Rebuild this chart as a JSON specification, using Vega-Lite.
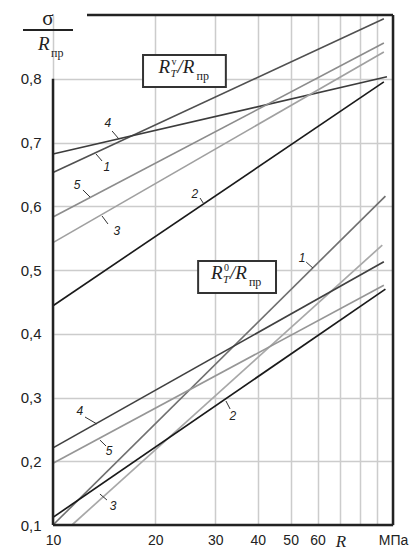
{
  "$schema": "https://vega.github.io/schema/vega-lite/v6.json",
  "width": 340,
  "height": 510,
  "autosize": {"type": "none"},
  "padding": {"left": 53, "top": 15, "right": 26, "bottom": 26},
  "background": "white",
  "config": {"view": {"stroke": null}, "font": "Liberation Sans"},
  "resolve": {"axis": {"x": "independent", "y": "independent"}},
  "datasets": {
    "lines": [
      {"series": "U1", "R": 10, "v": 0.653}, {"series": "U1", "R": 94, "v": 0.894},
      {"series": "U4", "R": 10, "v": 0.682}, {"series": "U4", "R": 96, "v": 0.803},
      {"series": "U5", "R": 10, "v": 0.583}, {"series": "U5", "R": 94, "v": 0.856},
      {"series": "U3", "R": 10, "v": 0.543}, {"series": "U3", "R": 94, "v": 0.842},
      {"series": "U2", "R": 10, "v": 0.444}, {"series": "U2", "R": 94, "v": 0.795},
      {"series": "L1", "R": 10, "v": 0.1}, {"series": "L1", "R": 95, "v": 0.616},
      {"series": "L3", "R": 11.37, "v": 0.1}, {"series": "L3", "R": 93, "v": 0.539},
      {"series": "L4", "R": 10, "v": 0.221}, {"series": "L4", "R": 94, "v": 0.513},
      {"series": "L5", "R": 10, "v": 0.197}, {"series": "L5", "R": 94, "v": 0.476},
      {"series": "L2", "R": 10, "v": 0.112}, {"series": "L2", "R": 95, "v": 0.47}
    ],
    "labels": [
      {"label": "4", "tx": 14.51, "ty": 0.7306, "ax": 14.92, "ay": 0.718, "bx": 15.63, "by": 0.7055},
      {"label": "1", "tx": 14.41, "ty": 0.6616, "ax": 13.38, "ay": 0.682, "bx": 13.94, "by": 0.671},
      {"label": "5", "tx": 11.77, "ty": 0.6333, "ax": 12.25, "ay": 0.6255, "bx": 12.85, "by": 0.6145},
      {"label": "3", "tx": 15.42, "ty": 0.5612, "ax": 13.94, "ay": 0.5847, "bx": 14.51, "by": 0.5722},
      {"label": "2", "tx": 26.15, "ty": 0.6192, "ax": 27.07, "ay": 0.6129, "bx": 27.78, "by": 0.6035},
      {"label": "1", "tx": 54.06, "ty": 0.5188, "ax": 55.54, "ay": 0.5125, "bx": 58.13, "by": 0.5031},
      {"label": "2", "tx": 33.83, "ty": 0.271, "ax": 32.26, "ay": 0.2945, "bx": 33.18, "by": 0.282},
      {"label": "4", "tx": 12.0, "ty": 0.2788, "ax": 12.42, "ay": 0.2694, "bx": 13.47, "by": 0.2584},
      {"label": "5", "tx": 14.61, "ty": 0.2161, "ax": 13.74, "ay": 0.2333, "bx": 14.32, "by": 0.2239},
      {"label": "3", "tx": 15.01, "ty": 0.1298, "ax": 13.74, "ay": 0.1486, "bx": 14.41, "by": 0.1392}
    ],
    "boxes": [
      {"sup": "v", "x1": 18.4, "x2": 32.24, "y1": 0.8373, "y2": 0.787, "xc": 24.37, "yc": 0.8122},
      {"sup": "0", "x1": 26.72, "x2": 45.28, "y1": 0.5141, "y2": 0.4639, "xc": 34.75, "yc": 0.489}
    ],
    "one": [{}]
  },
  "layer": [
    {
      "data": {"name": "lines"},
      "mark": {"type": "line", "strokeCap": "butt"},
      "encoding": {
        "x": {
          "field": "R", "type": "quantitative",
          "scale": {"type": "log", "domain": [10, 100], "nice": false},
          "axis": {
            "values": [10, 20, 30, 40, 50, 60, 70, 80, 90, 100],
            "labelExpr": "datum.value == 70 ? 'R' : datum.value == 100 ? 'МПа' : datum.value <= 60 ? format(datum.value, 'd') : ''",
            "labelFont": {"condition": {"test": "datum.value == 70", "value": "Liberation Serif"}, "value": "Liberation Sans"},
            "labelFontStyle": {"condition": {"test": "datum.value == 70", "value": "italic"}, "value": "normal"},
            "labelFontSize": {"condition": {"test": "datum.value == 70", "value": 17}, "value": 14},
            "labelColor": "#222",
            "labelPadding": 8,
            "labelFlush": false,
            "labelOverlap": false,
            "grid": true, "gridColor": "#cccccc", "gridWidth": 1.5,
            "ticks": false, "domain": false, "title": null
          }
        },
        "y": {
          "field": "v", "type": "quantitative",
          "scale": {"domain": [0.1, 0.9], "nice": false, "zero": false},
          "axis": {
            "values": [0.1, 0.2, 0.3, 0.4, 0.5, 0.6, 0.7, 0.8],
            "labelExpr": "replace(format(datum.value, '.1f'), '.', ',')",
            "labelFontSize": 15, "labelColor": "#222", "labelPadding": 12,
            "grid": true, "gridColor": "#cccccc", "gridWidth": 1.5,
            "ticks": false, "domain": false, "title": null
          }
        },
        "color": {
          "field": "series", "type": "nominal", "legend": null,
          "scale": {
            "domain": ["U1", "U4", "U5", "U3", "U2", "L1", "L4", "L5", "L3", "L2"],
            "range": ["#505050", "#3c3c3c", "#8c8c8c", "#a0a0a0", "#1a1a1a", "#707070", "#404040", "#969696", "#a8a8a8", "#1a1a1a"]
          }
        },
        "strokeWidth": {
          "field": "series", "type": "nominal", "legend": null,
          "scale": {
            "domain": ["U1", "U4", "U5", "U3", "U2", "L1", "L4", "L5", "L3", "L2"],
            "range": [1.6, 1.7, 1.6, 1.6, 2.3, 1.6, 1.8, 1.6, 1.6, 2.3]
          }
        }
      }
    },
    {
      "data": {"name": "one"},
      "mark": {"type": "rule", "color": "#222", "strokeWidth": 2.5},
      "encoding": {
        "x": {"datum": 10, "type": "quantitative", "scale": {"type": "log", "domain": [10, 100], "nice": false}, "axis": null},
        "y": {"datum": 0.1, "type": "quantitative", "scale": {"domain": [0.1, 0.9], "nice": false, "zero": false}, "axis": null},
        "y2": {"datum": 0.8}
      }
    },
    {
      "data": {"name": "one"},
      "mark": {"type": "rule", "color": "#222", "strokeWidth": 2.5},
      "encoding": {
        "x": {"datum": 10, "type": "quantitative", "scale": {"type": "log", "domain": [10, 100], "nice": false}, "axis": null},
        "x2": {"datum": 100},
        "y": {"datum": 0.1, "type": "quantitative", "scale": {"domain": [0.1, 0.9], "nice": false, "zero": false}, "axis": null}
      }
    },
    {
      "data": {"name": "one"},
      "mark": {"type": "rule", "color": "#222", "strokeWidth": 2.5},
      "encoding": {
        "x": {"datum": 100, "type": "quantitative", "scale": {"type": "log", "domain": [10, 100], "nice": false}, "axis": null},
        "y": {"datum": 0.1, "type": "quantitative", "scale": {"domain": [0.1, 0.9], "nice": false, "zero": false}, "axis": null},
        "y2": {"datum": 0.9}
      }
    },
    {
      "data": {"name": "one"},
      "mark": {"type": "rule", "color": "#222", "strokeWidth": 2.5},
      "encoding": {
        "x": {"datum": 12.59, "type": "quantitative", "scale": {"type": "log", "domain": [10, 100], "nice": false}, "axis": null},
        "x2": {"datum": 100},
        "y": {"datum": 0.9, "type": "quantitative", "scale": {"domain": [0.1, 0.9], "nice": false, "zero": false}, "axis": null}
      }
    },
    {
      "data": {"name": "one"},
      "mark": {"type": "rule", "color": "#222", "strokeWidth": 2},
      "encoding": {
        "x": {"datum": 8.162, "type": "quantitative", "scale": {"type": "log", "domain": [10, 100], "nice": false}, "axis": null},
        "x2": {"datum": 11.45},
        "y": {"datum": 0.8765, "type": "quantitative", "scale": {"domain": [0.1, 0.9], "nice": false, "zero": false}, "axis": null}
      }
    },
    {
      "data": {"name": "one"},
      "mark": {"type": "text", "text": "σ", "font": "Liberation Serif", "fontSize": 21, "align": "center", "baseline": "alphabetic", "color": "#222"},
      "encoding": {
        "x": {"datum": 9.667, "type": "quantitative", "scale": {"type": "log", "domain": [10, 100], "nice": false}, "axis": null},
        "y": {"datum": 0.8843, "type": "quantitative", "scale": {"domain": [0.1, 0.9], "nice": false, "zero": false}, "axis": null}
      }
    },
    {
      "data": {"name": "one"},
      "mark": {"type": "text", "text": "R", "font": "Liberation Serif", "fontStyle": "italic", "fontSize": 19, "align": "left", "baseline": "alphabetic", "color": "#222"},
      "encoding": {
        "x": {"datum": 9.034, "type": "quantitative", "scale": {"type": "log", "domain": [10, 100], "nice": false}, "axis": null},
        "y": {"datum": 0.8451, "type": "quantitative", "scale": {"domain": [0.1, 0.9], "nice": false, "zero": false}, "axis": null}
      }
    },
    {
      "data": {"name": "one"},
      "mark": {"type": "text", "text": "пр", "font": "Liberation Serif", "fontSize": 12, "align": "left", "baseline": "alphabetic", "color": "#222"},
      "encoding": {
        "x": {"datum": 9.866, "type": "quantitative", "scale": {"type": "log", "domain": [10, 100], "nice": false}, "axis": null},
        "y": {"datum": 0.8341, "type": "quantitative", "scale": {"domain": [0.1, 0.9], "nice": false, "zero": false}, "axis": null}
      }
    },
    {
      "data": {"name": "boxes"},
      "mark": {"type": "rect", "fill": "white", "stroke": "#333", "strokeWidth": 2},
      "encoding": {
        "x": {"field": "x1", "type": "quantitative", "scale": {"type": "log", "domain": [10, 100], "nice": false}, "axis": null},
        "x2": {"field": "x2"},
        "y": {"field": "y1", "type": "quantitative", "scale": {"domain": [0.1, 0.9], "nice": false, "zero": false}, "axis": null},
        "y2": {"field": "y2"}
      }
    },
    {
      "data": {"name": "boxes"},
      "layer": [
        {"mark": {"type": "text", "text": "R", "font": "Liberation Serif", "fontStyle": "italic", "fontSize": 19, "align": "left", "baseline": "alphabetic", "dx": -26, "dy": 2, "color": "#222"}},
        {"mark": {"type": "text", "text": "T", "font": "Liberation Serif", "fontStyle": "italic", "fontSize": 11, "align": "left", "baseline": "alphabetic", "dx": -14, "dy": 6, "color": "#222"}},
        {"mark": {"type": "text", "font": "Liberation Serif", "fontSize": 10, "align": "left", "baseline": "alphabetic", "dx": -13, "dy": -6, "color": "#222"}, "encoding": {"text": {"field": "sup"}}},
        {"mark": {"type": "text", "text": "/R", "font": "Liberation Serif", "fontStyle": "italic", "fontSize": 19, "align": "left", "baseline": "alphabetic", "dx": -7, "dy": 2, "color": "#222"}},
        {"mark": {"type": "text", "text": "пр", "font": "Liberation Serif", "fontSize": 12, "align": "left", "baseline": "alphabetic", "dx": 12, "dy": 9, "color": "#222"}}
      ],
      "encoding": {
        "x": {"field": "xc", "type": "quantitative", "scale": {"type": "log", "domain": [10, 100], "nice": false}, "axis": null},
        "y": {"field": "yc", "type": "quantitative", "scale": {"domain": [0.1, 0.9], "nice": false, "zero": false}, "axis": null}
      }
    },
    {
      "data": {"name": "labels"},
      "mark": {"type": "rule", "color": "#333", "strokeWidth": 1},
      "encoding": {
        "x": {"field": "ax", "type": "quantitative", "scale": {"type": "log", "domain": [10, 100], "nice": false}, "axis": null},
        "x2": {"field": "bx"},
        "y": {"field": "ay", "type": "quantitative", "scale": {"domain": [0.1, 0.9], "nice": false, "zero": false}, "axis": null},
        "y2": {"field": "by"}
      }
    },
    {
      "data": {"name": "labels"},
      "mark": {"type": "text", "font": "Liberation Sans", "fontStyle": "italic", "fontSize": 12, "align": "center", "baseline": "middle", "color": "#222"},
      "encoding": {
        "x": {"field": "tx", "type": "quantitative", "scale": {"type": "log", "domain": [10, 100], "nice": false}, "axis": null},
        "y": {"field": "ty", "type": "quantitative", "scale": {"domain": [0.1, 0.9], "nice": false, "zero": false}, "axis": null},
        "text": {"field": "label"}
      }
    }
  ]
}
